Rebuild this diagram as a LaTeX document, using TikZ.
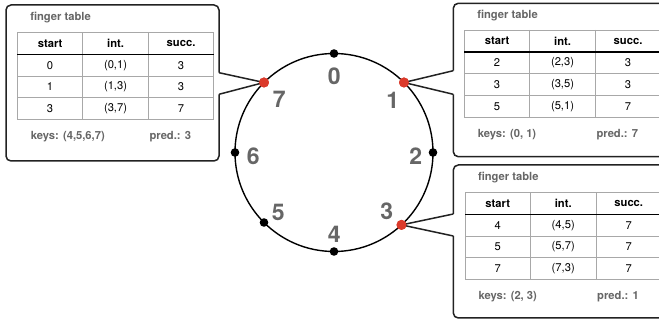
\documentclass[tikz,border=0pt]{standalone}
\usepackage{fontspec}
\setmainfont{TeX Gyre Heros}
\definecolor{txtgray}{HTML}{666666}
\definecolor{dotred}{HTML}{DB3A2B}
\definecolor{gridgray}{HTML}{A8A8A8}
\definecolor{boxcol}{HTML}{222222}
\newcommand{\ftable}[6]{%
\begin{scope}[shift={(#2,#3)}]
  \draw[tabgrid] (0,0) rectangle (196.5,87.1);
  \draw[tabgrid] (65.5,0) -- (65.5,87.1) (131,0) -- (131,87.1);
  \draw[tabgrid] (0,43.7) -- (196.5,43.7) (0,65.4) -- (196.5,65.4);
  \draw[headline] (0,22) -- (196.5,22);
  \node[headtxt] (#1-h1) at (32.75,11) {start};
  \node[headtxt] (#1-h2) at (98.25,11) {int.};
  \node[headtxt] (#1-h3) at (163.75,11) {succ.};
  \foreach \a/\b/\c [count=\i] in {#4} {
    \node[celltxt] (#1-r\i a) at (32.75,{22+21.7*(\i-0.5)}) {\a};
    \node[celltxt] (#1-r\i b) at (98.25,{22+21.7*(\i-0.5)}) {\b};
    \node[celltxt] (#1-r\i c) at (163.75,{22+21.7*(\i-0.5)}) {\c};
  }
  \node[fttitle] (#1-title) at (12.8,-14.3) {finger table};
  \node[fttitle] (#1-keys) at (13.3,104.8) {keys: #5};
  \node[fttitle] (#1-pred) at (132,104.8) {pred.: #6};
\end{scope}}
\begin{document}
\begin{tikzpicture}[x=1pt,y=-1pt,
  calloutbox/.style={draw=boxcol, line width=1.5pt, rounded corners=5pt},
  pointer/.style={draw=boxcol, line width=1.5pt, line join=miter},
  tabgrid/.style={draw=gridgray, line width=0.8pt},
  headline/.style={draw=black, line width=1.2pt},
  fttitle/.style={font=\bfseries\fontsize{11.2}{13}\selectfont, text=txtgray, anchor=west, inner sep=0pt},
  headtxt/.style={font=\bfseries\fontsize{11.2}{13}\selectfont, inner sep=0pt},
  celltxt/.style={font=\fontsize{11.2}{13}\selectfont, inner sep=0pt},
  bignum/.style={font=\bfseries\fontsize{23}{26}\selectfont, text=txtgray, inner sep=0pt},
  reddot/.style={circle, fill=dotred, inner sep=0pt, minimum size=10pt},
  blackdot/.style={circle, fill=black, inner sep=0pt, minimum size=8.6pt},
  ring/.style={draw=black, line width=1.4pt}]
\useasboundingbox (0,0) rectangle (659,320);
\clip (0,0) rectangle (659,320);
\fill[white] (0,0) rectangle (659,320);

% ring
\coordinate (c) at (334,152.5);
\draw[ring] (c) circle (99);
\node[blackdot] (d0) at ([shift={(-90:99)}]c) {};
\node[reddot]   (d1) at ([shift={(-45:99)}]c) {};
\node[blackdot] (d2) at ([shift={(0:99)}]c) {};
\node[reddot]   (d3) at ([shift={(47:99)}]c) {};
\node[blackdot] (d4) at ([shift={(90:99)}]c) {};
\node[blackdot] (d5) at ([shift={(135:99)}]c) {};
\node[blackdot] (d6) at ([shift={(180:99)}]c) {};
\node[reddot]   (d7) at ([shift={(-135:99)}]c) {};

\node[bignum] (n0) at (334.3,76) {0};
\node[bignum] (n1) at (392.7,100) {1};
\node[bignum] (n2) at (415.7,156) {2};
\node[bignum] (n3) at (386.7,211) {3};
\node[bignum] (n4) at (334.3,234) {4};
\node[bignum] (n5) at (278.3,212.7) {5};
\node[bignum] (n6) at (253.3,156) {6};
\node[bignum] (n7) at (279.3,99.3) {7};

% left callout (node 7)
\draw[calloutbox] (219,72.7) -- (219,5) -- (6,5) -- (6,161) -- (219,161) -- (219,94.3);
\draw[pointer] (219,72.7) -- (d7.center) -- (219,94.3);
\ftable{tl}{17.3}{32.3}{0/{(0,1)}/3, 1/{(1,3)}/3, 3/{(3,7)}/7}{(4,5,6,7)}{3}

% top right callout (node 1)
\draw[calloutbox] (453.3,70.7) -- (453.3,3.3) -- (690,3.3) -- (690,156.7) -- (453.3,156.7) -- (453.3,94.3);
\draw[pointer] (453.3,70.7) -- (d1.center) -- (453.3,94.3);
\ftable{tr}{464.3}{30}{2/{(2,3)}/3, 3/{(3,5)}/3, 5/{(5,1)}/7}{(0, 1)}{7}

% bottom right callout (node 3)
\draw[calloutbox] (453.3,214) -- (453.3,165) -- (690,165) -- (690,318) -- (453.3,318) -- (453.3,236);
\draw[pointer] (453.3,214) -- (d3.center) -- (453.3,236);
\ftable{br}{465}{192.3}{4/{(4,5)}/7, 5/{(5,7)}/7, 7/{(7,3)}/7}{(2, 3)}{1}

% redraw dots on top of pointers
\node[reddot] at (d1) {};
\node[reddot] at (d3) {};
\node[reddot] at (d7) {};
\end{tikzpicture}
\end{document}
